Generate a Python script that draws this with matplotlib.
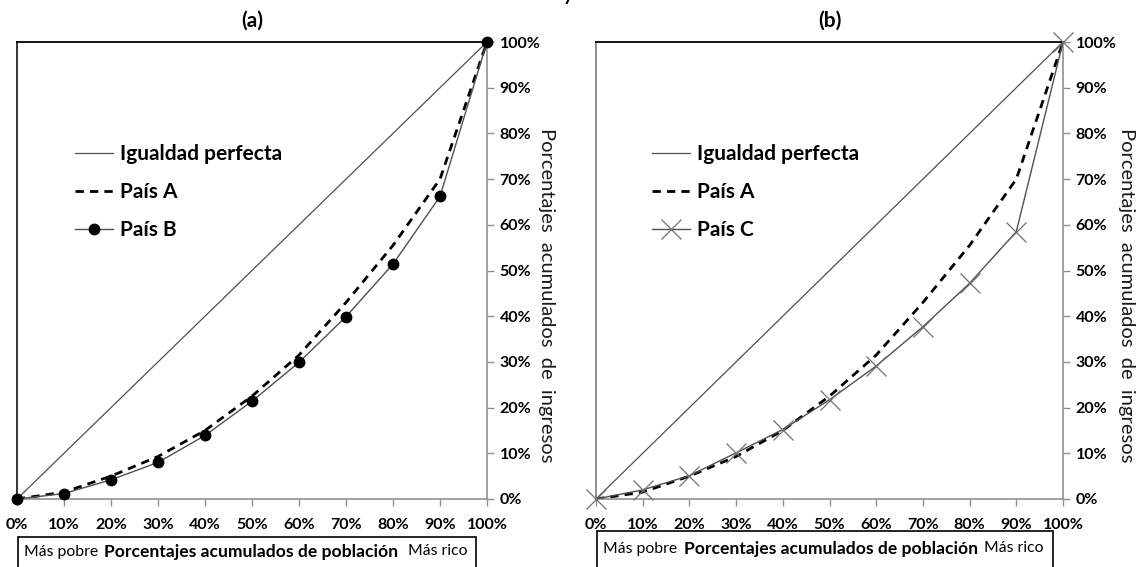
import matplotlib.pyplot as plt
from matplotlib.patches import Rectangle

plt.rcParams['font.family'] = ['Lato', 'DejaVu Sans']

# porcentajes acumulados de poblacion (deciles)
poblacion = [0, 10, 20, 30, 40, 50, 60, 70, 80, 90, 100]
igualdad = [0, 10, 20, 30, 40, 50, 60, 70, 80, 90, 100]
pais_a = [0, 1.5, 5.0, 9.3, 15.0, 22.5, 31.5, 43.0, 55.5, 70.0, 100]
pais_b = [0, 1.2, 4.2, 8.0, 13.9, 21.4, 29.9, 39.9, 51.4, 66.2, 100]
pais_c = [0, 2.0, 5.1, 10.1, 15.2, 21.7, 29.1, 37.7, 47.2, 58.5, 100]
ticks = [0, 10, 20, 30, 40, 50, 60, 70, 80, 90, 100]
etiquetas = [f"{t}%" for t in ticks]

W, H = 1142, 567
fig = plt.figure(figsize=(W / 100, H / 100), dpi=100)


def panel(left, right, titulo, otro, nombre, marcador, izq_color, xlab, xleg):
    ax = fig.add_axes([left / W, 1 - 499 / H, (right - left) / W, 457 / H])
    ax.plot(poblacion, igualdad, color='#505050', lw=0.9, label='Igualdad perfecta')
    ax.plot(poblacion, pais_a, color='black', lw=2.0, ls=(0, (3, 2.2)), label='País A')
    if marcador == 'o':
        ax.plot(poblacion, otro, color='#505050', lw=1.0, marker='o', ms=7.5,
                mfc='black', mec='black', label=nombre, clip_on=False, zorder=3)
    else:
        ax.plot(poblacion, otro, color='#505050', lw=1.0, marker='x', ms=14,
                mew=0.9, mec='#707070', label=nombre, clip_on=False, zorder=3)
    ax.set_xlim(0, 100)
    ax.set_ylim(0, 100)
    ax.set_xticks(ticks)
    ax.set_xticklabels(etiquetas, fontsize=11.5, fontweight='bold')
    ax.set_yticks(ticks)
    ax.set_yticklabels(etiquetas, fontsize=11.5, fontweight='bold')
    ax.yaxis.tick_right()
    ax.tick_params(axis='both', colors='#909090', length=5, width=1, labelcolor='black')
    ax.tick_params(axis='x', pad=9)
    ax.tick_params(axis='y', pad=4)
    for s in ['bottom', 'right']:
        ax.spines[s].set_color('#909090')
        ax.spines[s].set_linewidth(1.2)
    ax.spines['top'].set_color('black')
    ax.spines['top'].set_linewidth(1.3)
    ax.spines['left'].set_color(izq_color)
    ax.spines['left'].set_linewidth(1.1)
    ax.set_title(titulo, fontsize=15, fontweight='bold', pad=11)
    ax.yaxis.set_label_position('right')
    ax.set_ylabel('Porcentajes  acumulados  de  ingresos', fontsize=14.5,
                  rotation=-90, color='#1a1a1a', va='center')
    ax.yaxis.set_label_coords(xlab, 0.446)
    ax.legend(loc='upper left', bbox_to_anchor=(xleg, 0.794), frameon=False,
              prop={'size': 15, 'weight': 'bold'}, handlelength=1.8,
              handletextpad=0.35, labelspacing=0.85, borderaxespad=0)
    return ax


panel(17, 487, '(a)', pais_b, 'País B', 'o', 'black', 1.126, 0.106)
panel(596, 1063, '(b)', pais_c, 'País C', 'x', '#707070', 1.137, 0.103)

# cajas bajo el eje de poblacion
for x0, x1, top, dy, xc in [(18, 476, 537, 0, 251), (597, 1053, 531, 3, 831)]:
    fig.patches.append(Rectangle((x0 / W, -0.01), (x1 - x0) / W, (H - top) / H + 0.01,
                                 transform=fig.transFigure, fill=False,
                                 ec='black', lw=1.2))
    yc = 1 - (552 - dy) / H
    fig.text((x0 + 6) / W, yc, 'Más pobre', fontsize=11.3, va='center', ha='left')
    fig.text(xc / W, yc, 'Porcentajes acumulados de población',
             fontsize=12.6, fontweight='bold', va='center', ha='center')
    fig.text((x1 - 9) / W, yc + 1 / H, 'Más rico', fontsize=11.3, va='center', ha='right')

fig.text(568 / W, 1 - 1 / H, 'y', fontsize=14, fontweight='bold', ha='center', va='baseline')

fig.savefig('out.png', dpi=100)
